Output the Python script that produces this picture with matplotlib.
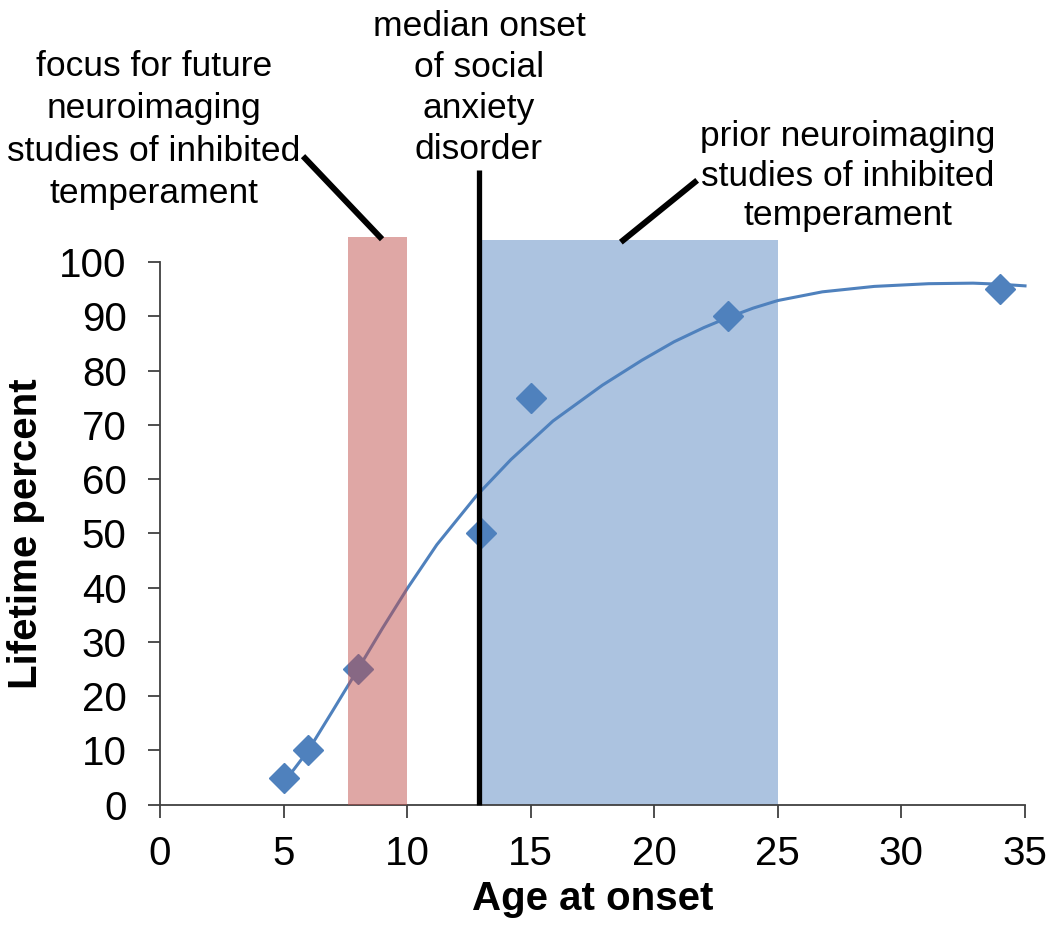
import matplotlib
matplotlib.use("Agg")
import matplotlib.pyplot as plt

plt.rcParams['font.family'] = ['Liberation Sans', 'DejaVu Sans']

# data points (diamonds)
age = [5, 6, 8, 13, 15, 23, 34]
pct = [5, 10, 25, 50, 75, 90, 95]

# fitted curve
curve_x = [5, 6, 7, 8, 9, 10, 11.2, 12.8, 14.2, 15.9, 17.9, 19.5, 20.8, 22, 23, 24, 25, 26.8, 28.9, 31.1, 32.9, 34, 35]
curve_y = [4, 10, 17.4, 24.9, 32.5, 39.8, 47.9, 56.9, 63.6, 70.7, 77.3, 81.9, 85.3, 87.9, 89.8, 91.5, 92.9, 94.5, 95.5, 96.0, 96.1, 95.9, 95.6]

focus_band = (7.6, 10)
prior_band = (13, 25)
median_onset = 12.9

xticks = [0, 5, 10, 15, 20, 25, 30, 35]
yticks = [0, 10, 20, 30, 40, 50, 60, 70, 80, 90, 100]

blue = '#4F81BD'

fig = plt.figure(figsize=(10.5, 9.32), dpi=100)
ax = fig.add_axes([0.1524, 0.1366, 0.8238, 0.5823])

# shaded bands (stick out above the plot area)
ax.fill_between(prior_band, 0, 104.1, color='#ACC3E0', lw=0, zorder=1, clip_on=False)
ax.fill_between(focus_band, 0, 104.6, color='#C0504D', alpha=0.5, lw=0, zorder=4, clip_on=False)

ax.plot(curve_x, curve_y, color=blue, lw=2.2, zorder=2, clip_on=False,
        solid_joinstyle='round')
ax.plot(age, pct, 'D', color=blue, ms=15, mec=blue, zorder=3, clip_on=False)

# median onset line
ax.plot([median_onset, median_onset], [0, 117], color='black', lw=3.8, zorder=5,
        clip_on=False, solid_capstyle='butt')

# leader lines to the notes
ax.plot([5.87, 8.9], [119.1, 104.6], color='black', lw=4.3, clip_on=False, zorder=6)
ax.plot([21.64, 18.74], [114.7, 104.0], color='black', lw=4.3, clip_on=False, zorder=6)

ax.set_xlim(0, 35)
ax.set_ylim(0, 100)
ax.set_xticks(xticks)
ax.set_yticks(yticks)
for s in ['top', 'right']:
    ax.spines[s].set_visible(False)
for s in ['left', 'bottom']:
    ax.spines[s].set_color('#404040')
    ax.spines[s].set_linewidth(1.3)
ax.tick_params(axis='both', direction='out', length=9, width=1.3, color='#404040',
               labelsize=29)
ax.tick_params(axis='y', pad=15)
ax.tick_params(axis='x', pad=13)

ax.set_xlabel('Age at onset', fontsize=29, fontweight='bold')
ax.set_ylabel('Lifetime percent', fontsize=29, fontweight='bold')
ax.xaxis.set_label_coords(0.5, -0.138)
ax.yaxis.set_label_coords(-0.133, 0.5)

W, H = 1050, 932
fig.text(154 / W, 1 - 130 / H, 'focus for future\nneuroimaging\nstudies of inhibited\ntemperament',
         ha='center', va='center', fontsize=25.5, linespacing=1.36)
fig.text(479 / W, 1 - 88 / H, 'median onset\nof social\nanxiety\ndisorder',
         ha='center', va='center', fontsize=25.5, linespacing=1.31)
fig.text(848 / W, 1 - 176 / H, 'prior neuroimaging\nstudies of inhibited\ntemperament',
         ha='center', va='center', fontsize=25.5, linespacing=1.25)

fig.savefig('out.png', dpi=100)
